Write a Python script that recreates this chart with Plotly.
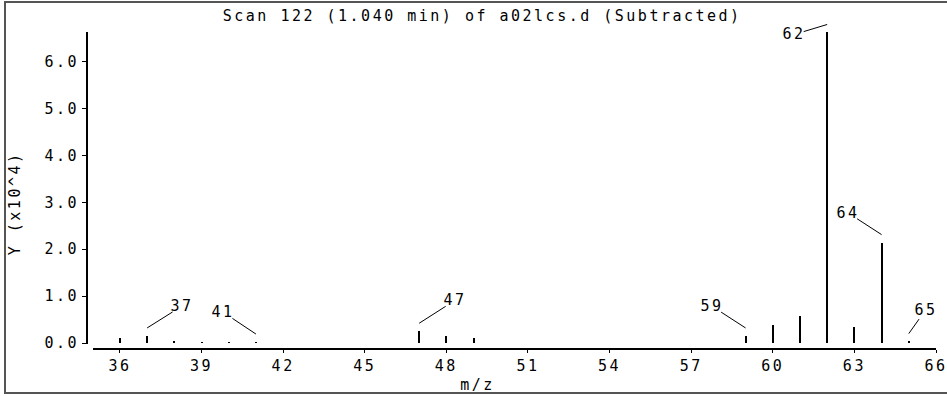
import plotly.graph_objects as go

# ---- data (intensity in units of 10^4) ----
mz = [36, 37, 38, 39, 40, 41, 47, 48, 49, 59, 60, 61, 62, 63, 64, 65]
intensity = [0.10, 0.15, 0.05, 0.02, 0.02, 0.02, 0.25, 0.14, 0.10, 0.15, 0.38, 0.58, 6.62, 0.34, 2.14, 0.03]
labelled_peaks = [37, 41, 47, 59, 62, 64, 65]
label_offsets = {37: (35, -22), 41: (-33, -22), 47: (36, -23), 59: (-34, -22),
                 62: (-33, 10), 64: (-34, -22), 65: (17, -24)}
x_ticks = list(range(36, 67, 3))
y_ticks = [0, 1, 2, 3, 4, 5, 6]
title_text = "Scan 122 (1.040 min) of a02lcs.d (Subtracted)"

W, H = 947, 396
L, R, T, B = 87, 11, 32, 47
PW, PH = W - L - R, H - T - B

def px(xp):
    return (xp - L) / PW

def py(yp):
    return (H - B - yp) / PH

FONT = "DejaVu Sans Mono"
FS = 15

fig = go.Figure()
fig.add_trace(go.Bar(x=mz, y=intensity, width=0.075,
                     marker=dict(color="black", line=dict(width=0)),
                     showlegend=False, hoverinfo="x+y"))

annotations = []
val = dict(zip(mz, intensity))
for m in labelled_peaks:
    ax, ay = label_offsets[m]
    annotations.append(dict(x=m, y=val[m], xref="x", yref="y", text=str(m),
                            showarrow=True, arrowhead=0, arrowwidth=1, arrowcolor="black",
                            ax=ax, ay=ay, yshift=8, borderpad=0,
                            font=dict(family=FONT, size=FS, color="black")))

annotations.append(dict(text="Y (x10^4)", textangle=-90, xref="paper", yref="paper",
                        x=px(15), y=py(204), xanchor="center", yanchor="middle", showarrow=False,
                        font=dict(family=FONT, size=FS, color="black")))
annotations.append(dict(text="m/z", xref="paper", yref="paper",
                        x=px(477), y=py(385), xanchor="center", yanchor="middle", showarrow=False,
                        font=dict(family=FONT, size=FS, color="black")))
annotations.append(dict(text=title_text, xref="paper", yref="paper",
                        x=px(482), y=py(16), xanchor="center", yanchor="middle", showarrow=False,
                        font=dict(family=FONT, size=FS, color="black")))

shapes = [
    # x axis line
    dict(type="line", xref="paper", yref="paper", x0=px(93), x1=1, y0=0, y1=0,
         line=dict(color="black", width=2)),
    # y axis line
    dict(type="line", xref="paper", yref="paper", x0=0, x1=0, y0=py(344), y1=1,
         line=dict(color="black", width=2)),
]

fig.update_layout(
    width=W, height=H,
    margin=dict(l=L, r=R, t=T, b=B, autoexpand=False),
    paper_bgcolor="white", plot_bgcolor="white",
    font=dict(family=FONT, size=FS, color="black"),
    annotations=annotations, shapes=shapes,
    bargap=0,
    xaxis=dict(range=[34.79, 66], tickvals=x_ticks, ticks="outside", ticklen=3,
               tickcolor="black", tickwidth=1, showline=False, showgrid=False,
               zeroline=False, automargin=False, tickfont=dict(family=FONT, size=FS)),
    yaxis=dict(range=[-0.128, 6.63], tickvals=y_ticks, tickformat=".1f", ticks="outside",
               ticklen=4, tickcolor="black", tickwidth=1, showline=False, showgrid=False,
               zeroline=False, automargin=False, tickfont=dict(family=FONT, size=FS)),
)

post = ("document.body.style.margin='0';"
        "document.documentElement.style.overflow='hidden';"
        "document.body.style.overflow='hidden';"
        "var s=document.createElement('style');"
        "s.textContent='.main-svg text{letter-spacing:2.5px}';"
        "document.head.appendChild(s);"
        "var d=document.createElement('div');"
        "d.style.cssText='position:absolute;left:4px;top:1px;width:3000px;height:389px;"
        "border:2px solid #555555;pointer-events:none;';"
        "document.body.appendChild(d);")

fig.write_html("out.html", post_script=post, config={"displayModeBar": False})
